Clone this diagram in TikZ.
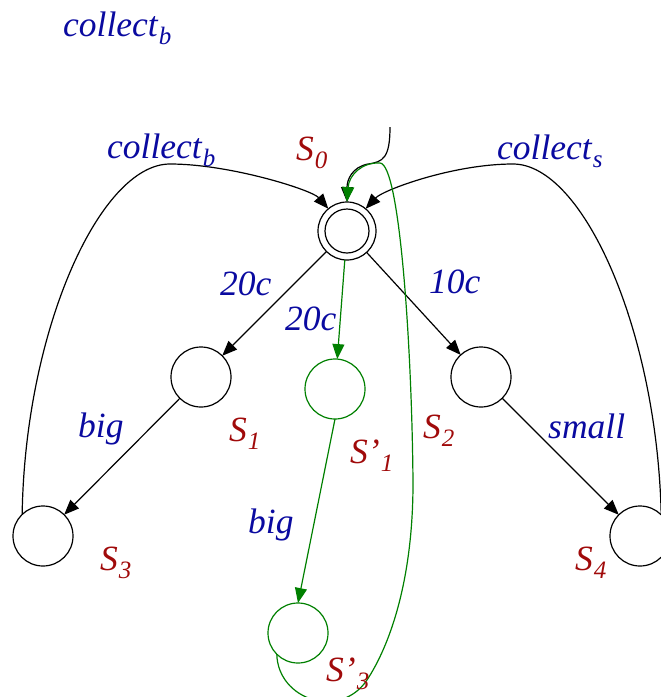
\documentclass[tikz,border=0pt]{standalone}
\usepackage{fontspec}
\setmainfont{Liberation Serif}
\usetikzlibrary{arrows.meta}
\definecolor{lblblue}{RGB}{10,10,160}
\definecolor{lblred}{RGB}{160,10,10}
\definecolor{grn}{RGB}{0,128,0}
\newcommand{\lsub}[1]{\hspace{1pt}\raisebox{-8pt}{\fontsize{25}{25}\selectfont #1}}
\begin{document}
\begin{tikzpicture}[x=1pt,y=-1pt,
  state/.style={circle,draw,line width=1.2pt,minimum size=60pt,inner sep=0pt,outer sep=0pt},
  gstate/.style={state,draw=grn},
  edge/.style={line width=1.2pt,-{Triangle[length=15pt,width=12pt]}},
  gedge/.style={edge,draw=grn},
  lbl/.style={font=\fontsize{35.5}{40}\selectfont\itshape,text=lblblue,anchor=base west,inner sep=0pt},
  sname/.style={lbl,text=lblred}]
\useasboundingbox (0,0) rectangle (661,697);
% states
\node[state,minimum size=58pt] (s0) at (347,231) {};
\draw[line width=1.2pt] (s0.center) circle (22pt);
\node[state] (s1) at (201,377) {};
\node[state] (s2) at (481,377) {};
\node[state] (s3) at (43,536) {};
\node[state] (s4) at (640,536) {};
\node[gstate] (s1p) at (335,389) {};
\node[gstate] (s3p) at (298,633) {};
% straight edges
\draw[edge] (s0) -- (s1);
\draw[edge] (s0) -- (s2);
\draw[edge] (s1) -- (s3);
\draw[edge] (s2) -- (s4);
% curved returns
\draw[edge] (s3.134) .. controls (25,330) and (100,164) .. (170,164)
  .. controls (230,164) and (312,190) .. (s0.130);
\draw[edge] (s4.45) .. controls (657,330) and (583,164) .. (513,164)
  .. controls (453,164) and (383,190) .. (s0.50);
% initial arrow
\coordinate (init) at (390,127);
\draw[edge] (init) .. controls (390,158) and (383,162) .. (368,164)
  .. controls (352,167) and (347,180) .. (s0.north);
% green path
\draw[gedge] (s0) -- (s1p);
\draw[gedge] (s1p.south) -- (s3p.north);
\draw[gedge] (s3p.225) .. controls (278,700) and (340,720) .. (367,680)
  .. controls (390,645) and (413,580) .. (413,483)
  .. controls (412,350) and (400,164) .. (380,163)
  .. controls (362,162) and (349,175) .. (s0.north);
% labels
\node[lbl] (lc1) at (63,36) {collect\lsub{b}};
\node[lbl] (lc2) at (107,158) {collect\lsub{b}};
\node[sname] (ls0) at (296,160) {S\lsub{0}};
\node[lbl] (lc3) at (497,159) {collect\lsub{s}};
\node[lbl] (l20a) at (220,295) {20c};
\node[lbl] (l20b) at (285,330) {20c};
\node[lbl] (l10) at (429,293) {10c};
\node[lbl] (lbig1) at (78,437) {big};
\node[sname] (ls1) at (229,441) {S\lsub{1}};
\node[sname] (ls1p) at (350,463) {S’\lsub{1}};
\node[sname] (ls2) at (423,438) {S\lsub{2}};
\node[lbl] (lsmall) at (548,438) {small};
\node[lbl] (lbig2) at (248,533) {big};
\node[sname] (ls3) at (100,570) {S\lsub{3}};
\node[sname] (ls4) at (575,570) {S\lsub{4}};
\node[sname] (ls3p) at (326,681) {S’\lsub{3}};
\end{tikzpicture}
\end{document}
